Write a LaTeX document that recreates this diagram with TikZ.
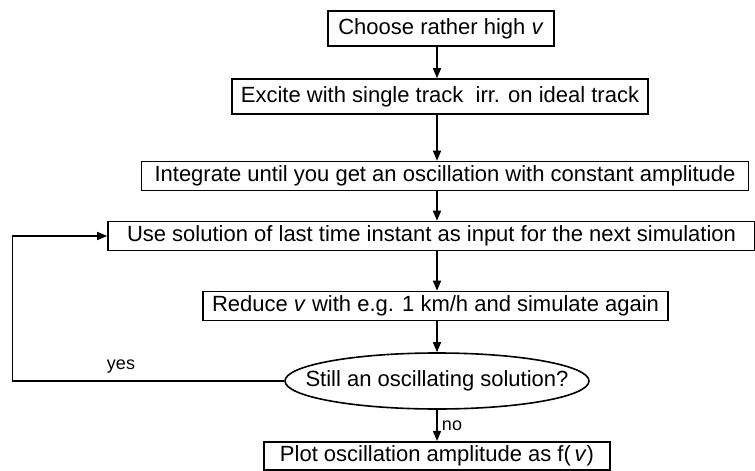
\documentclass[tikz,border=0pt]{standalone}
\usepackage{fontspec}
\setmainfont{Liberation Sans}
\usetikzlibrary{shapes.geometric,arrows.meta}

\begin{document}
\begin{tikzpicture}[x=0.5pt,y=-0.5pt,
    process/.style ={rectangle, draw, line width=0.8pt, inner sep=2pt, minimum height=14.5pt, font=\fontsize{11}{13}\selectfont},
    decision/.style ={ellipse, draw, line width=0.8pt, inner sep=0pt, minimum width=152pt, minimum height=28pt, font=\fontsize{11}{13}\selectfont},
    flow/.style ={line width=0.7pt, -{Triangle[length=5pt,width=4pt]}},
    answer/.style ={inner sep=0pt, font=\fontsize{9}{11}\selectfont}]
   \useasboundingbox (0,0) rectangle (755,471);
   \node[process, minimum width=113pt, minimum height=17.5pt] (choose) at (441,28.5) {Choose rather high \textit{v}};
   \node[process, minimum width=208pt, minimum height=17.5pt] (excite) at (440,96.5) {Excite with single track~ irr. on ideal track};
   \node[process, minimum width=303.5pt] (integrate) at (445,176) {Integrate until you get an oscillation with constant amplitude};
   \node[process, minimum width=323.5pt] (use) at (431.5,236) {Use solution of last time instant as input for the next simulation};
   \node[process, minimum width=232.5pt] (reduce) at (435.5,306) {Reduce \textit{v} with e.g. 1 km/h and simulate again};
   \node[decision] (still) at (437,381) {\makebox[0pt]{Still an oscillating solution?}};
   \node[process, minimum width=173pt, minimum height=14pt] (plot) at (437,456) {Plot oscillation amplitude as f(\,\textit{v})};
   \coordinate (axis) at (437,0);
   \coordinate (back) at (12.5,300);
   \draw[flow] (choose.south -| axis) -- (excite.north -| axis);
   \draw[flow] (excite.south -| axis) -- (integrate.north -| axis);
   \draw[flow] (integrate.south -| axis) -- (use.north -| axis);
   \draw[flow] (use.south -| axis) -- (reduce.north -| axis);
   \draw[flow] (reduce.south -| axis) -- (still.north);
   \draw[flow] (still.south) -- (plot.north -| axis);
   \draw[flow] (still.west) -| (back) |- (use.west);
   \node[answer] (yes) at (121,367) {yes};
   \node[answer] (no) at (452,426) {no};
 \end{tikzpicture}
\end{document}
